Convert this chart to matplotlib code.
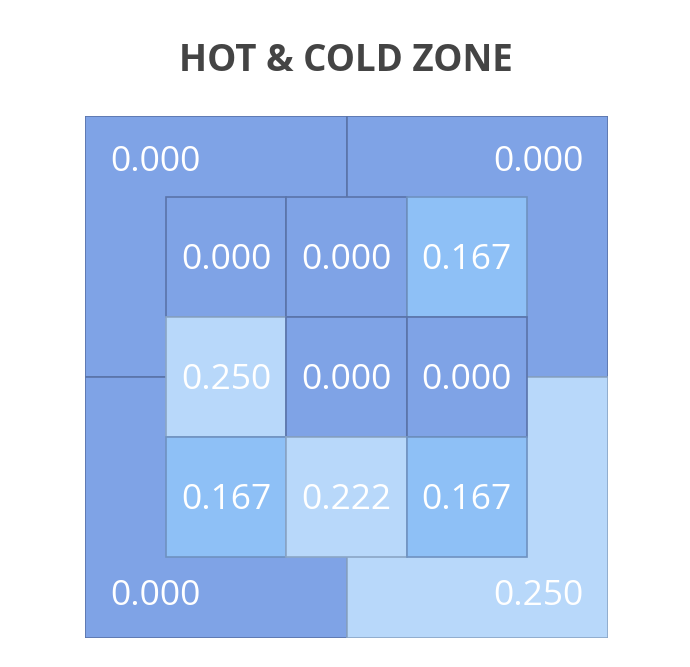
import numpy as np
import matplotlib.pyplot as plt
from matplotlib.patches import Rectangle

# outer quadrants (row 0 = top), inner 3x3 grid
outer_vals = [[0.000, 0.000],
              [0.000, 0.250]]
inner_vals = [[0.000, 0.000, 0.167],
              [0.250, 0.000, 0.000],
              [0.167, 0.222, 0.167]]
title = "HOT & COLD ZONE"


def cell_color(v):
    if v < 0.1:
        return "#7fa3e6"
    elif v < 0.2:
        return "#8ec0f6"
    return "#b8d8fa"


def edge_color(v):
    if v < 0.1:
        return "#5a74a9"
    elif v < 0.2:
        return "#6f92c0"
    return "#8ba6c6"


plt.rcParams['font.family'] = ['Open Sans', 'DejaVu Sans']

fig = plt.figure(figsize=(6.9, 6.67), dpi=100)
ax = fig.add_axes([85 / 690, 29 / 667, 523 / 690, 522 / 667])
ax.set_xlim(0, 2)
ax.set_ylim(2, 0)
ax.axis('off')

fs = 25.5

# outer quadrants
for r in range(2):
    for c in range(2):
        v = outer_vals[r][c]
        ax.add_patch(Rectangle((c, r), 1, 1, facecolor=cell_color(v),
                               edgecolor=edge_color(v), lw=1.2))

# inner grid centred at (1, 1)
cell = 0.459
x0 = 1 - 1.5 * cell
for r in range(3):
    for c in range(3):
        v = inner_vals[r][c]
        ax.add_patch(Rectangle((x0 + c * cell, x0 + r * cell), cell, cell,
                               facecolor=cell_color(v), edgecolor=edge_color(v),
                               lw=1.2, zorder=2))
        ax.text(x0 + (c + 0.5) * cell, x0 + (r + 0.5) * cell + 0.012, f"{v:.3f}",
                ha='center', va='center', color='white', fontsize=fs, zorder=3)

# outer labels in the corners
strip = x0 / 2
pad = 0.095
for r in range(2):
    for c in range(2):
        v = outer_vals[r][c]
        y = strip + 0.022 if r == 0 else 2 - strip - 0.005
        if c == 0:
            ax.text(pad, y, f"{v:.3f}", ha='left', va='center',
                    color='white', fontsize=fs, zorder=3)
        else:
            ax.text(2 - pad, y, f"{v:.3f}", ha='right', va='center',
                    color='white', fontsize=fs, zorder=3)

fig.text(346 / 690, 1 - 61 / 667, title, ha='center', va='center',
         fontsize=26.5, fontweight='bold', color='#444444')

fig.savefig("out.png", dpi=100)
